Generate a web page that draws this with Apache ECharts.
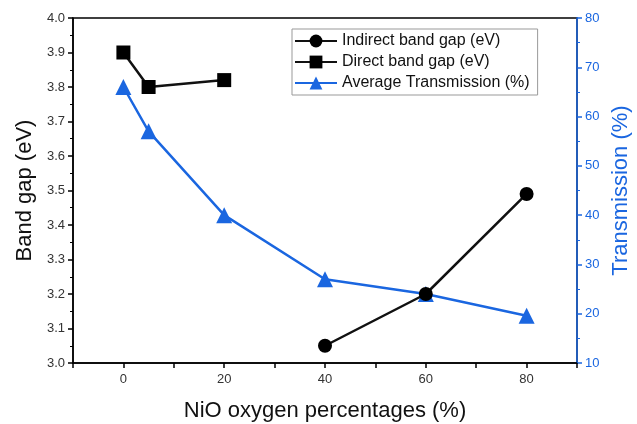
<!DOCTYPE html>
<html>
<head>
<meta charset="utf-8">
<script src="https://cdn.jsdelivr.net/npm/echarts@6/dist/echarts.min.js"></script>
<style>
	html, body { margin: 0; padding: 0; background: #fff; }
	#main { width: 637px; height: 424px; }
</style>
</head>
<body>
<div id="main"></div>
<script>
'use strict';
// values
var directX = [0, 5, 20];
var directGap = [3.90, 3.80, 3.82];
var indirectX = [40, 60, 80];
var indirectGap = [3.05, 3.20, 3.49];
var transX = [0, 5, 20, 40, 60, 80];
var transVal = [66, 57, 40, 27, 24, 19.6];

var blue = '#1a66e0';
var font = 'Arial, "Liberation Sans", sans-serif';

function pairs(xs, ys) {
	var out = [];
	for (var i = 0; i < xs.length; i++) {
		out.push([xs[i], ys[i]]);
	}
	return out;
}

var myChart = echarts.init(document.getElementById('main'));
var option = {
	animation: false,
	textStyle: { fontFamily: font },
	grid: {
		left: 73, right: 60, top: 18, bottom: 61,
		outerBoundsMode: 'none',
		containLabel: false,
		show: true, borderColor: '#000', borderWidth: 1.5
	},
	legend: {
		orient: 'vertical',
		left: 292, top: 29,
		width: 265,
		itemWidth: 42, itemHeight: 16, itemGap: 5,
		padding: [4, 8, 4, 2],
		borderColor: '#999', borderWidth: 1,
		textStyle: { fontSize: 16, color: '#111', fontFamily: font },
		data: ['Indirect band gap (eV)', 'Direct band gap (eV)', 'Average Transmission (%)']
	},
	xAxis: {
		type: 'value',
		min: -10, max: 90, interval: 10,
		name: 'NiO oxygen percentages (%)',
		nameLocation: 'middle', nameGap: 37,
		nameTextStyle: { fontSize: 22, color: '#111', fontFamily: font },
		axisLine: { onZero: false, lineStyle: { color: '#000', width: 1.5 } },
		axisTick: { inside: false, length: 5, lineStyle: { color: '#000', width: 1.5 } },
		axisLabel: {
			fontSize: 13, color: '#333', margin: 10,
			formatter: function(v) { return (Math.round(v) % 20 === 0) ? String(v) : ''; }
		},
		splitLine: { show: false }
	},
	yAxis: [{
		type: 'value',
		min: 3.0, max: 4.0, interval: 0.1,
		name: 'Band gap (eV)',
		nameLocation: 'middle', nameGap: 37,
		nameTextStyle: { fontSize: 22, color: '#111', fontFamily: font },
		axisLine: { show: true, onZero: false, lineStyle: { color: '#000', width: 1.5 } },
		axisTick: { show: true, length: 5, lineStyle: { color: '#000', width: 1.5 } },
		minorTick: { show: true, splitNumber: 2, length: 3, lineStyle: { color: '#000' } },
		axisLabel: { fontSize: 13, color: '#333', formatter: function(v) { return v.toFixed(1); } },
		splitLine: { show: false }
	}, {
		type: 'value',
		position: 'right',
		min: 10, max: 80, interval: 10,
		name: 'Transmission (%)',
		nameLocation: 'middle', nameGap: 33,
		nameRotate: 90,
		nameTextStyle: { fontSize: 22, color: blue, fontFamily: font },
		axisLine: { show: true, onZero: false, lineStyle: { color: blue, width: 1.5 } },
		axisTick: { show: true, length: 5, lineStyle: { color: blue, width: 1.5 } },
		minorTick: { show: true, splitNumber: 2, length: 3, lineStyle: { color: blue } },
		axisLabel: { fontSize: 13, color: blue },
		splitLine: { show: false }
	}],
	series: [{
		name: 'Indirect band gap (eV)',
		type: 'line',
		yAxisIndex: 0,
		data: pairs(indirectX, indirectGap),
		symbol: 'circle', symbolSize: 14,
		itemStyle: { color: '#000' },
		lineStyle: { color: '#111', width: 2.5 }
	}, {
		name: 'Direct band gap (eV)',
		type: 'line',
		yAxisIndex: 0,
		data: pairs(directX, directGap),
		symbol: 'rect', symbolSize: 14,
		itemStyle: { color: '#000' },
		lineStyle: { color: '#111', width: 2.5 }
	}, {
		name: 'Average Transmission (%)',
		type: 'line',
		yAxisIndex: 1,
		data: pairs(transX, transVal),
		symbol: 'triangle', symbolSize: 16,
		itemStyle: { color: blue },
		lineStyle: { color: blue, width: 2.5 },
		z: 1
	}]
};
myChart.setOption(option);
</script>
</body>
</html>
